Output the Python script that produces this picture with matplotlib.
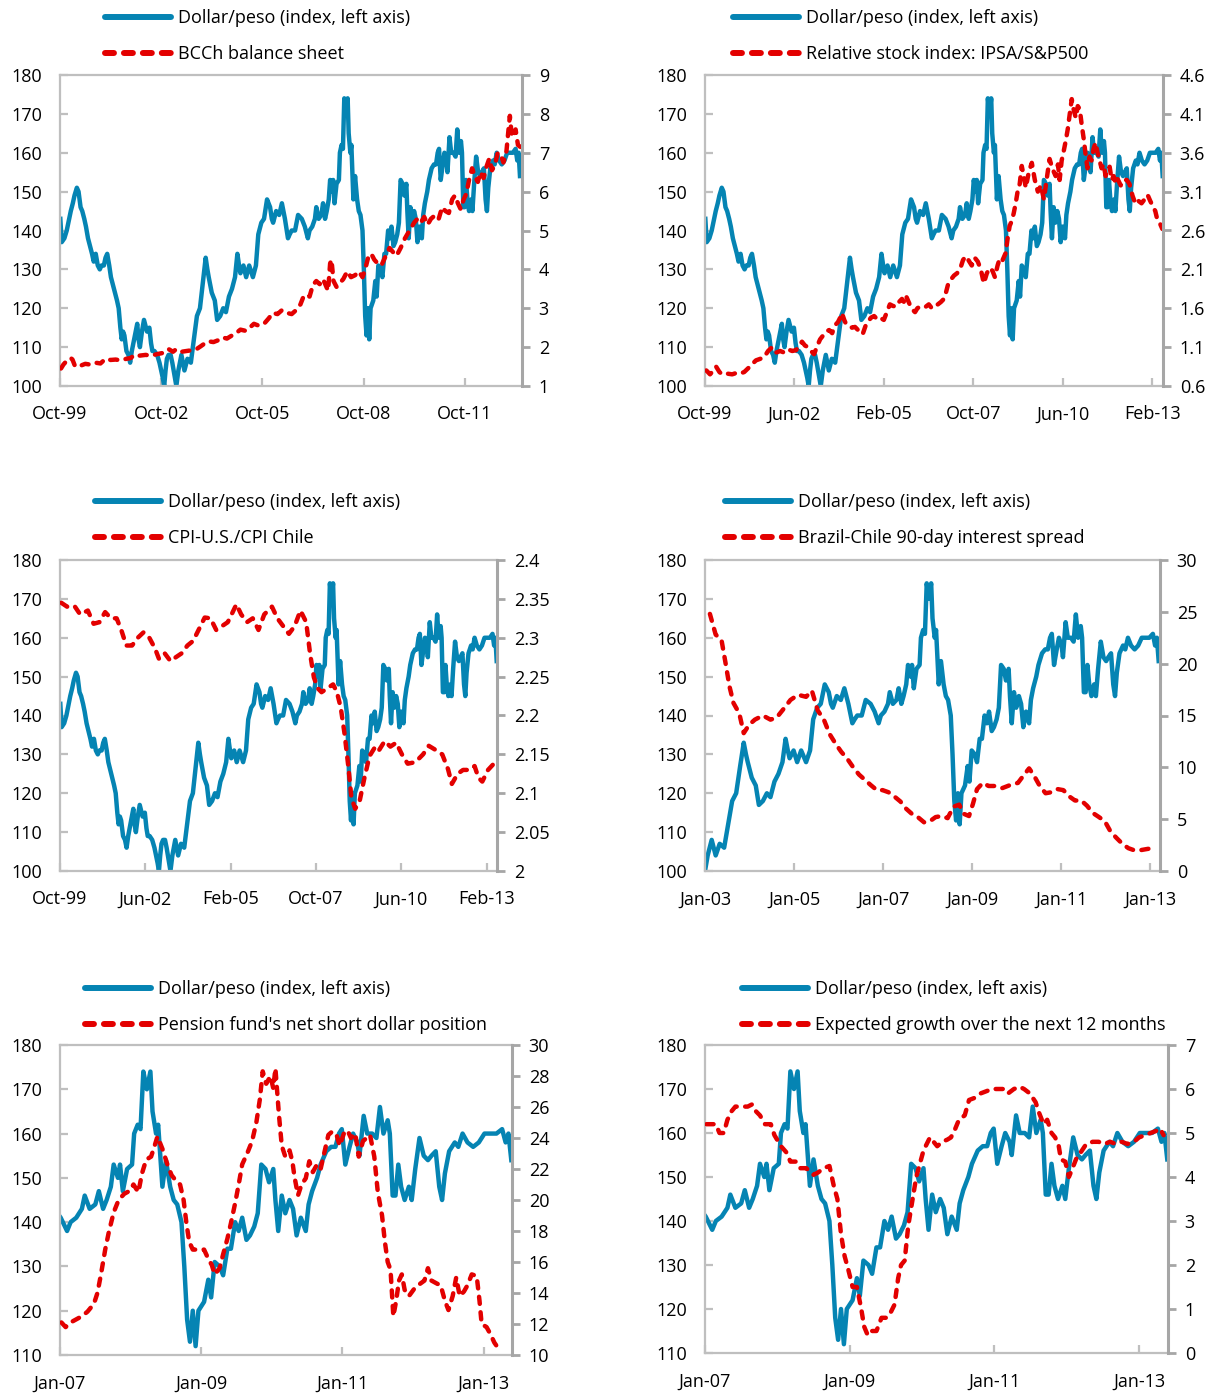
import matplotlib
matplotlib.use('Agg')
import matplotlib.pyplot as plt
from matplotlib.lines import Line2D

plt.rcParams['font.family'] = ['Open Sans', 'DejaVu Sans']

# dollar/peso index (decimal year, value)
fx_t = [1999.76, 1999.80, 1999.88, 1999.95, 2000.02, 2000.07, 2000.13, 2000.18, 2000.25, 2000.30,
        2000.36, 2000.41, 2000.47, 2000.52, 2000.58, 2000.64, 2000.70, 2000.75, 2000.81, 2000.87,
        2000.93, 2000.98, 2001.05, 2001.10, 2001.15, 2001.21, 2001.26, 2001.32, 2001.38, 2001.44,
        2001.49, 2001.54, 2001.58, 2001.62, 2001.66, 2001.72, 2001.78, 2001.83, 2001.88, 2001.95,
        2002.00, 2002.04, 2002.08, 2002.12, 2002.18, 2002.24, 2002.27, 2002.33, 2002.40, 2002.45,
        2002.49, 2002.55, 2002.63, 2002.70, 2002.75, 2002.80, 2002.84, 2002.88, 2002.92, 2002.97,
        2003.03, 2003.08, 2003.14, 2003.20, 2003.26, 2003.35, 2003.44, 2003.53, 2003.63, 2003.72,
        2003.81, 2003.90, 2003.99, 2004.07, 2004.12, 2004.16, 2004.25, 2004.34, 2004.41, 2004.50,
        2004.59, 2004.67, 2004.76, 2004.85, 2004.94, 2005.01, 2005.06, 2005.10, 2005.19, 2005.27,
        2005.36, 2005.47, 2005.56, 2005.63, 2005.72, 2005.80, 2005.89, 2005.98, 2006.03, 2006.07,
        2006.16, 2006.25, 2006.33, 2006.42, 2006.51, 2006.56, 2006.62, 2006.72, 2006.81, 2006.92,
        2007.01, 2007.10, 2007.15, 2007.23, 2007.31, 2007.35, 2007.42, 2007.50, 2007.55, 2007.61,
        2007.66, 2007.72, 2007.76, 2007.82, 2007.85, 2007.89, 2007.95, 2008.02, 2008.05, 2008.10,
        2008.14, 2008.18, 2008.23, 2008.28, 2008.31, 2008.36, 2008.39, 2008.45, 2008.50, 2008.56,
        2008.61, 2008.66, 2008.72, 2008.76, 2008.80, 2008.84, 2008.88, 2008.92, 2008.96, 2009.04,
        2009.10, 2009.14, 2009.19, 2009.26, 2009.31, 2009.37, 2009.42, 2009.48, 2009.53, 2009.58,
        2009.64, 2009.69, 2009.75, 2009.80, 2009.85, 2009.91, 2009.96, 2010.02, 2010.05, 2010.09,
        2010.14, 2010.19, 2010.25, 2010.30, 2010.35, 2010.41, 2010.48, 2010.52, 2010.57, 2010.64,
        2010.69, 2010.77, 2010.84, 2010.90, 2010.95, 2010.99, 2011.04, 2011.10, 2011.15, 2011.21,
        2011.24, 2011.30, 2011.35, 2011.42, 2011.48, 2011.53, 2011.58, 2011.64, 2011.67, 2011.71,
        2011.75, 2011.79, 2011.83, 2011.88, 2011.94, 2011.98, 2012.03, 2012.09, 2012.15, 2012.21,
        2012.26, 2012.32, 2012.37, 2012.41, 2012.45, 2012.51, 2012.59, 2012.64, 2012.70, 2012.77,
        2012.85, 2012.93, 2013.01, 2013.10, 2013.18, 2013.26, 2013.31, 2013.35, 2013.39]
fx_v = [143, 137, 138, 140, 143, 145, 147, 149, 151, 150,
        146, 145, 143, 141, 138, 136, 134, 132, 134, 131,
        130, 131, 131, 133, 134, 131, 128, 126, 124, 122,
        120, 115, 112, 114, 113, 109, 108, 106, 109, 112,
        114, 116, 112, 110, 114, 117, 116, 114, 115, 111,
        109, 109, 108, 106, 104, 102, 100, 104, 107, 108,
        108, 106, 103, 100, 104, 108, 104, 107, 106, 112,
        118, 120, 127, 133, 130, 128, 124, 122, 117, 118,
        120, 119, 123, 125, 128, 134, 131, 129, 131, 128,
        131, 128, 131, 139, 142, 143, 148, 146, 143, 142,
        145, 144, 147, 143, 138, 139, 140, 140, 144, 143,
        141, 138, 140, 141, 143, 146, 143, 144, 147, 143,
        145, 148, 153, 150, 153, 147, 152, 153, 160, 162,
        161, 174, 170, 174, 165, 160, 162, 148, 154, 148,
        145, 144, 140, 130, 118, 113, 120, 112, 120, 122,
        127, 123, 131, 130, 128, 134, 134, 140, 138, 141,
        136, 137, 139, 142, 153, 152, 149, 152, 145, 138,
        146, 142, 145, 143, 137, 141, 138, 144, 147, 150,
        153, 156, 157, 157, 160, 161, 153, 157, 160, 158,
        155, 164, 160, 160, 159, 166, 160, 163, 160, 146,
        146, 153, 148, 145, 148, 145, 152, 159, 155, 154,
        155, 156, 148, 145, 151, 156, 158, 157, 160, 158,
        157, 158, 160, 160, 160, 161, 158, 160, 154]

# BCCh balance sheet
bcch_t = [1999.78, 1999.85, 1999.95, 2000.07, 2000.12, 2000.20, 2000.35, 2000.50, 2000.65, 2000.80,
          2000.95, 2001.10, 2001.25, 2001.40, 2001.55, 2001.72, 2001.85, 2001.95, 2002.10, 2002.29,
          2002.45, 2002.63, 2002.80, 2002.97, 2003.10, 2003.20, 2003.35, 2003.50, 2003.66, 2003.80,
          2003.92, 2004.05, 2004.15, 2004.30, 2004.45, 2004.57, 2004.70, 2004.85, 2005.00, 2005.10,
          2005.25, 2005.40, 2005.50, 2005.65, 2005.82, 2005.95, 2006.05, 2006.20, 2006.33, 2006.48,
          2006.62, 2006.75, 2006.88, 2006.97, 2007.05, 2007.15, 2007.25, 2007.35, 2007.45, 2007.55,
          2007.65, 2007.70, 2007.76, 2007.80, 2007.86, 2007.95, 2008.05, 2008.15, 2008.27, 2008.38,
          2008.50, 2008.61, 2008.72, 2008.80, 2008.90, 2008.98, 2009.07, 2009.17, 2009.28, 2009.41,
          2009.52, 2009.62, 2009.73, 2009.85, 2009.98, 2010.08, 2010.15, 2010.25, 2010.35, 2010.45,
          2010.55, 2010.65, 2010.75, 2010.88, 2010.98, 2011.08, 2011.18, 2011.28, 2011.38, 2011.46,
          2011.55, 2011.63, 2011.72, 2011.80, 2011.88, 2011.97, 2012.05, 2012.14, 2012.22, 2012.31,
          2012.40, 2012.48, 2012.56, 2012.65, 2012.73, 2012.82, 2012.90, 2012.99, 2013.05, 2013.09,
          2013.14, 2013.20, 2013.26, 2013.33, 2013.40]
bcch_v = [1.45, 1.55, 1.65, 1.72, 1.68, 1.50, 1.52, 1.57, 1.55, 1.60,
          1.58, 1.70, 1.67, 1.68, 1.66, 1.70, 1.72, 1.80, 1.78, 1.80,
          1.78, 1.82, 1.85, 1.95, 1.88, 1.95, 1.88, 1.90, 1.92, 1.95,
          2.02, 2.10, 2.15, 2.13, 2.18, 2.25, 2.22, 2.30, 2.38, 2.45,
          2.42, 2.52, 2.60, 2.55, 2.62, 2.75, 2.88, 2.85, 2.95, 2.88,
          2.85, 2.95, 3.10, 3.30, 3.35, 3.30, 3.60, 3.70, 3.62, 3.75,
          3.55, 3.45, 4.15, 4.25, 3.70, 3.55, 3.65, 3.75, 3.95, 3.80,
          3.85, 3.95, 3.80, 4.00, 4.35, 4.40, 4.25, 4.15, 4.10, 4.35,
          4.55, 4.45, 4.35, 4.55, 4.80, 4.95, 5.05, 5.20, 5.30, 5.20,
          5.35, 5.15, 5.30, 5.40, 5.30, 5.60, 5.50, 5.45, 5.80, 5.90,
          5.70, 5.55, 5.80, 5.95, 6.30, 6.60, 6.40, 6.25, 6.50, 6.35,
          6.65, 6.85, 6.55, 6.70, 7.00, 6.95, 6.75, 7.05, 7.60, 7.95,
          7.50, 7.40, 7.60, 7.20, 7.15]

# Relative stock index IPSA/S&P500
ipsa_t = [1999.79, 1999.90, 2000.00, 2000.08, 2000.18, 2000.26, 2000.40, 2000.56, 2000.70, 2000.80,
          2000.92, 2001.04, 2001.15, 2001.27, 2001.40, 2001.51, 2001.63, 2001.75, 2001.87, 2001.99,
          2002.11, 2002.23, 2002.35, 2002.46, 2002.58, 2002.64, 2002.73, 2002.82, 2002.91, 2003.00,
          2003.10, 2003.18, 2003.27, 2003.36, 2003.45, 2003.54, 2003.62, 2003.71, 2003.78, 2003.83,
          2003.90, 2003.95, 2004.05, 2004.13, 2004.22, 2004.31, 2004.40, 2004.46, 2004.54, 2004.61,
          2004.70, 2004.79, 2004.88, 2004.96, 2005.08, 2005.17, 2005.26, 2005.35, 2005.44, 2005.53,
          2005.62, 2005.68, 2005.74, 2005.80, 2005.86, 2005.94, 2006.01, 2006.08, 2006.15, 2006.25,
          2006.33, 2006.42, 2006.51, 2006.60, 2006.69, 2006.78, 2006.87, 2006.93, 2006.99, 2007.08,
          2007.17, 2007.26, 2007.35, 2007.44, 2007.52, 2007.60, 2007.70, 2007.79, 2007.88, 2007.97,
          2008.06, 2008.15, 2008.24, 2008.32, 2008.39, 2008.47, 2008.54, 2008.62, 2008.71, 2008.77,
          2008.83, 2008.89, 2008.95, 2009.01, 2009.07, 2009.13, 2009.19, 2009.25, 2009.31, 2009.40,
          2009.49, 2009.58, 2009.67, 2009.76, 2009.85, 2009.93, 2010.02, 2010.10, 2010.20, 2010.27,
          2010.32, 2010.38, 2010.44, 2010.50, 2010.56, 2010.62, 2010.68, 2010.74, 2010.80, 2010.86,
          2010.92, 2010.98, 2011.04, 2011.10, 2011.15, 2011.21, 2011.27, 2011.33, 2011.39, 2011.45,
          2011.51, 2011.57, 2011.63, 2011.69, 2011.75, 2011.81, 2011.87, 2011.93, 2011.99, 2012.05,
          2012.14, 2012.23, 2012.32, 2012.40, 2012.49, 2012.58, 2012.67, 2012.76, 2012.85, 2012.94,
          2013.02, 2013.11, 2013.17, 2013.23, 2013.30, 2013.38]
ipsa_v = [0.80, 0.75, 0.80, 0.85, 0.78, 0.75, 0.76, 0.75, 0.77, 0.76,
          0.78, 0.83, 0.88, 0.93, 0.95, 0.97, 1.05, 1.10, 1.03, 1.05,
          1.03, 1.07, 1.05, 1.06, 1.13, 1.17, 1.12, 1.10, 1.05, 1.01,
          1.12, 1.20, 1.25, 1.30, 1.32, 1.28, 1.38, 1.42, 1.48, 1.54,
          1.45, 1.40, 1.38, 1.35, 1.36, 1.32, 1.33, 1.28, 1.38, 1.43,
          1.48, 1.50, 1.46, 1.48, 1.45, 1.55, 1.65, 1.63, 1.62, 1.68,
          1.72, 1.68, 1.76, 1.70, 1.64, 1.58, 1.55, 1.60, 1.62, 1.63,
          1.62, 1.65, 1.60, 1.63, 1.65, 1.68, 1.72, 1.80, 1.90, 1.97,
          2.02, 2.05, 2.10, 2.22, 2.27, 2.22, 2.15, 2.25, 2.20, 2.10,
          1.92, 2.05, 2.12, 2.08, 2.00, 2.15, 2.25, 2.22, 2.31, 2.50,
          2.66, 2.72, 2.82, 2.95, 3.11, 3.20, 3.43, 3.30, 3.15, 3.35,
          3.47, 3.25, 3.10, 3.18, 3.00, 3.25, 3.52, 3.40, 3.30, 3.45,
          3.25, 3.50, 3.62, 3.75, 3.90, 4.10, 4.29, 4.15, 4.05, 4.20,
          4.16, 3.95, 3.77, 3.55, 3.40, 3.55, 3.50, 3.65, 3.73, 3.60,
          3.50, 3.40, 3.45, 3.30, 3.38, 3.42, 3.25, 3.30, 3.20, 3.26,
          3.18, 3.25, 3.25, 3.20, 3.05, 2.94, 2.98, 2.95, 3.00, 3.06,
          2.98, 2.90, 2.85, 2.74, 2.70, 2.62]

# CPI-U.S./CPI Chile
cpi_t = [1999.79, 1999.97, 2000.20, 2000.38, 2000.62, 2000.80, 2000.98, 2001.16, 2001.34, 2001.52,
         2001.68, 2001.82, 2002.00, 2002.18, 2002.36, 2002.54, 2002.72, 2002.84, 2003.02, 2003.20,
         2003.37, 2003.55, 2003.73, 2003.91, 2004.09, 2004.27, 2004.45, 2004.63, 2004.81, 2004.99,
         2005.11, 2005.26, 2005.41, 2005.59, 2005.77, 2005.95, 2006.13, 2006.37, 2006.54, 2006.72,
         2006.90, 2007.08, 2007.26, 2007.44, 2007.56, 2007.68, 2007.80, 2007.92, 2008.10, 2008.28,
         2008.40, 2008.52, 2008.64, 2008.76, 2008.85, 2008.97, 2009.11, 2009.26, 2009.42, 2009.60,
         2009.71, 2009.89, 2010.07, 2010.25, 2010.43, 2010.61, 2010.85, 2011.09, 2011.27, 2011.51,
         2011.69, 2011.87, 2011.99, 2012.17, 2012.34, 2012.52, 2012.70, 2012.82, 2012.94, 2013.12,
         2013.30]
cpi_v = [2.345, 2.340, 2.341, 2.330, 2.335, 2.318, 2.320, 2.333, 2.325, 2.325,
         2.308, 2.290, 2.290, 2.300, 2.307, 2.300, 2.286, 2.273, 2.280, 2.270,
         2.275, 2.280, 2.290, 2.296, 2.311, 2.326, 2.325, 2.310, 2.315, 2.320,
         2.330, 2.343, 2.330, 2.320, 2.325, 2.310, 2.330, 2.340, 2.325, 2.315,
         2.305, 2.315, 2.335, 2.320, 2.280, 2.249, 2.235, 2.230, 2.235, 2.240,
         2.230, 2.210, 2.176, 2.133, 2.095, 2.080, 2.090, 2.120, 2.148, 2.160,
         2.155, 2.167, 2.160, 2.165, 2.150, 2.138, 2.140, 2.150, 2.161, 2.155,
         2.150, 2.131, 2.112, 2.125, 2.130, 2.130, 2.135, 2.120, 2.115, 2.130,
         2.138]

# Brazil-Chile 90-day interest spread
spread_t = [2003.31, 2003.44, 2003.57, 2003.66, 2003.75, 2003.84, 2003.97, 2004.07, 2004.19, 2004.32,
            2004.50, 2004.67, 2004.81, 2004.94, 2005.12, 2005.29, 2005.47, 2005.60, 2005.73, 2005.87,
            2006.00, 2006.13, 2006.26, 2006.40, 2006.53, 2006.66, 2006.79, 2006.92, 2007.06, 2007.19,
            2007.32, 2007.45, 2007.59, 2007.72, 2007.85, 2007.98, 2008.12, 2008.25, 2008.38, 2008.51,
            2008.65, 2008.78, 2008.91, 2009.02, 2009.13, 2009.22, 2009.31, 2009.44, 2009.57, 2009.71,
            2009.88, 2010.06, 2010.23, 2010.37, 2010.48, 2010.59, 2010.72, 2010.85, 2010.98, 2011.12,
            2011.25, 2011.38, 2011.51, 2011.65, 2011.78, 2011.91, 2012.05, 2012.18, 2012.31, 2012.44,
            2012.58, 2012.71, 2012.84, 2012.97, 2013.10, 2013.24, 2013.32]
spread_v = [24.8, 22.8, 22.3, 20.1, 17.8, 16.2, 15.2, 13.3, 14.1, 14.6,
            15.0, 14.6, 14.8, 15.5, 16.5, 17.0, 16.8, 17.4, 15.5, 14.6,
            13.2, 12.3, 11.5, 10.8, 10.0, 9.3, 8.8, 8.3, 7.8, 7.8,
            7.6, 7.2, 6.7, 6.0, 5.5, 5.2, 4.7, 4.8, 5.2, 5.3,
            5.1, 6.2, 6.4, 5.5, 5.3, 6.5, 7.9, 8.5, 8.2, 8.2,
            8.0, 8.3, 8.5, 9.3, 9.9, 9.2, 8.2, 7.5, 7.6, 7.9,
            7.8, 7.2, 6.8, 6.8, 6.3, 5.6, 5.2, 4.8, 3.8, 3.2,
            2.6, 2.2, 2.0, 2.0, 2.1, 2.2, 2.2]

# Pension funds' net short dollar position
pension_t = [2007.02, 2007.08, 2007.15, 2007.23, 2007.31, 2007.39, 2007.48, 2007.53, 2007.58, 2007.64,
             2007.69, 2007.76, 2007.83, 2007.91, 2007.99, 2008.04, 2008.11, 2008.16, 2008.22, 2008.29,
             2008.34, 2008.38, 2008.45, 2008.52, 2008.58, 2008.65, 2008.70, 2008.75, 2008.79, 2008.83,
             2008.88, 2008.96, 2009.04, 2009.10, 2009.15, 2009.19, 2009.26, 2009.31, 2009.37, 2009.42,
             2009.48, 2009.53, 2009.58, 2009.65, 2009.72, 2009.78, 2009.83, 2009.87, 2009.92, 2009.98,
             2010.02, 2010.05, 2010.10, 2010.14, 2010.19, 2010.25, 2010.29, 2010.32, 2010.37, 2010.42,
             2010.48, 2010.53, 2010.58, 2010.64, 2010.69, 2010.75, 2010.80, 2010.85, 2010.91, 2010.96,
             2011.02, 2011.07, 2011.12, 2011.18, 2011.23, 2011.29, 2011.34, 2011.39, 2011.45, 2011.50,
             2011.56, 2011.60, 2011.64, 2011.68, 2011.72, 2011.76, 2011.80, 2011.84, 2011.88, 2011.94,
             2012.02, 2012.10, 2012.16, 2012.21, 2012.26, 2012.34, 2012.39, 2012.45, 2012.50, 2012.56,
             2012.61, 2012.66, 2012.72, 2012.77, 2012.83, 2012.90, 2012.94, 2012.97, 2013.04, 2013.10,
             2013.15, 2013.21, 2013.24]
pension_v = [12.1, 11.8, 12.1, 12.3, 12.5, 12.8, 13.3, 14.0, 15.2, 16.8,
             17.9, 19.2, 20.0, 20.4, 20.6, 21.0, 20.5, 21.7, 22.6, 22.8,
             23.5, 24.1, 23.3, 22.3, 21.6, 21.2, 21.0, 20.0, 18.5, 17.3,
             16.8, 16.8, 16.8, 16.2, 15.8, 15.2, 15.6, 16.5, 17.5, 18.5,
             19.8, 21.0, 22.3, 23.0, 23.8, 25.0, 26.5, 28.3, 27.5, 28.0,
             27.2, 28.5, 25.5, 23.5, 22.8, 23.2, 22.5, 21.5, 20.3, 21.0,
             21.4, 22.5, 21.8, 22.3, 22.0, 23.2, 24.2, 24.4, 24.3, 23.5,
             24.3, 24.5, 24.0, 24.3, 22.8, 23.8, 24.0, 24.2, 22.8, 20.5,
             19.0, 17.3, 16.0, 15.5, 12.5, 13.5, 14.8, 15.2, 14.2, 13.8,
             14.3, 14.6, 14.8, 15.6, 14.8, 14.6, 14.5, 13.5, 12.9, 13.8,
             15.0, 13.8, 14.1, 14.5, 15.2, 15.1, 13.5, 12.0, 11.8, 11.3,
             10.8, 10.4, 10.5]

# Expected growth over the next 12 months
growth_t = [2007.02, 2007.10, 2007.15, 2007.20, 2007.26, 2007.31, 2007.37, 2007.42, 2007.50, 2007.59,
            2007.65, 2007.70, 2007.76, 2007.83, 2007.91, 2007.96, 2008.05, 2008.13, 2008.18, 2008.26,
            2008.32, 2008.40, 2008.50, 2008.56, 2008.64, 2008.72, 2008.78, 2008.83, 2008.88, 2008.93,
            2008.98, 2009.04, 2009.10, 2009.16, 2009.20, 2009.25, 2009.31, 2009.37, 2009.44, 2009.51,
            2009.56, 2009.62, 2009.67, 2009.71, 2009.76, 2009.81, 2009.86, 2009.92, 2009.97, 2010.02,
            2010.11, 2010.16, 2010.21, 2010.28, 2010.35, 2010.40, 2010.46, 2010.51, 2010.59, 2010.65,
            2010.73, 2010.81, 2010.89, 2010.97, 2011.05, 2011.14, 2011.19, 2011.27, 2011.35, 2011.41,
            2011.49, 2011.57, 2011.62, 2011.68, 2011.73, 2011.79, 2011.84, 2011.89, 2011.92, 2011.98,
            2012.03, 2012.08, 2012.14, 2012.19, 2012.27, 2012.36, 2012.44, 2012.52, 2012.60, 2012.68,
            2012.76, 2012.84, 2012.93, 2013.00, 2013.08, 2013.16, 2013.24, 2013.29, 2013.34]
growth_v = [5.20, 5.20, 5.20, 5.00, 5.00, 5.30, 5.50, 5.60, 5.60, 5.60,
            5.65, 5.50, 5.40, 5.20, 5.20, 4.95, 4.70, 4.55, 4.35, 4.35,
            4.20, 4.20, 4.05, 4.10, 4.20, 4.25, 3.80, 3.50, 2.70, 2.20,
            1.90, 1.50, 1.50, 1.00, 0.60, 0.40, 0.50, 0.50, 0.80, 0.80,
            0.90, 1.10, 1.70, 2.00, 2.10, 2.90, 3.40, 4.00, 4.30, 4.60,
            4.90, 4.80, 4.70, 4.80, 4.85, 4.90, 5.10, 5.30, 5.40, 5.75,
            5.80, 5.90, 5.95, 6.00, 6.00, 6.00, 5.90, 6.00, 6.05, 6.00,
            5.90, 5.70, 5.45, 5.20, 5.30, 5.00, 4.90, 4.70, 4.40, 4.35,
            4.00, 4.20, 4.45, 4.55, 4.75, 4.80, 4.80, 4.75, 4.80, 4.75,
            4.80, 4.75, 4.80, 4.90, 4.95, 5.00, 5.05, 5.10, 4.95]

BLUE = '#0584b3'
RED = '#e30000'
GRID = '#bfbfbf'
RAXIS = '#a6a6a6'
W, H = 1211, 1397

fig = plt.figure(figsize=(W / 100, H / 100), dpi=100)


def panel(box, red_t, red_v, red_label, xlim, xticks, xlabels,
          ylim_l, ystep_l, ylim_r, ystep_r, leg_xy):
    left, top, right, bottom = box
    ax = fig.add_axes([left / W, 1 - bottom / H, (right - left) / W, (bottom - top) / H])
    ax.plot(fx_t, fx_v, color=BLUE, lw=3.2, solid_joinstyle='round')
    ax.set_xlim(*xlim)
    ax.set_ylim(*ylim_l)
    ax.set_xticks(xticks)
    ax.set_xticklabels(xlabels)
    yt = [ylim_l[0] + i * ystep_l for i in range(int(round((ylim_l[1] - ylim_l[0]) / ystep_l)) + 1)]
    ax.set_yticks(yt)
    ax.set_yticklabels(['%g' % v for v in yt])
    for s in ['left', 'top', 'bottom']:
        ax.spines[s].set_color(GRID)
        ax.spines[s].set_linewidth(1.6)
    ax.spines['right'].set_visible(False)
    ax.tick_params(axis='both', direction='in', length=6, width=1.6, color=GRID, labelsize=13)
    ax.tick_params(axis='y', pad=13)
    ax.tick_params(axis='x', pad=14)

    ax2 = ax.twinx()
    ax2.plot(red_t, red_v, color=RED, lw=3.2, dashes=(1.6, 1.9), dash_capstyle='round')
    ax2.set_ylim(*ylim_r)
    rt = [ylim_r[0] + i * ystep_r for i in range(int(round((ylim_r[1] - ylim_r[0]) / ystep_r)) + 1)]
    ax2.set_yticks(rt)
    ax2.set_yticklabels(['%g' % round(v, 2) for v in rt])
    for s in ['left', 'top', 'bottom']:
        ax2.spines[s].set_visible(False)
    ax2.spines['right'].set_color(RAXIS)
    ax2.spines['right'].set_linewidth(2.2)
    ax2.tick_params(axis='y', direction='out', length=6, width=2, color=RAXIS, labelsize=13, pad=6)

    handles = [Line2D([], [], color=BLUE, lw=4.3, solid_capstyle='round'),
               Line2D([], [], color=RED, lw=4.3, dashes=(1.5, 1.67), dash_capstyle='round')]
    fig.legend(handles, ['Dollar/peso (index, left axis)', red_label],
               loc='upper left', bbox_to_anchor=(leg_xy[0] / W, 1 - leg_xy[1] / H),
               frameon=False, fontsize=13, handlelength=3.65, handletextpad=0.4,
               labelspacing=1.0, borderpad=0, borderaxespad=0)
    return ax


oct99 = ['Oct-99', 'Jun-02', 'Feb-05', 'Oct-07', 'Jun-10', 'Feb-13']
oct99_pos = [1999.75 + k * 32 / 12 for k in range(6)]

panel((60, 75, 522, 386), bcch_t, bcch_v, 'BCCh balance sheet',
      (1999.75, 2013.45), [1999.75 + 3 * k for k in range(5)],
      ['Oct-99', 'Oct-02', 'Oct-05', 'Oct-08', 'Oct-11'],
      (100, 180), 10, (1, 9), 1, (105, 9))

panel((705, 75, 1163, 386), ipsa_t, ipsa_v, 'Relative stock index: IPSA/S&P500',
      (1999.75, 2013.4), oct99_pos, oct99,
      (100, 180), 10, (0.6, 4.6), 0.5, (733, 9))

panel((60, 560, 497, 871), cpi_t, cpi_v, 'CPI-U.S./CPI Chile',
      (1999.75, 2013.4), oct99_pos, oct99,
      (100, 180), 10, (2.0, 2.4), 0.05, (95, 493))

panel((705, 560, 1160, 871), spread_t, spread_v, 'Brazil-Chile 90-day interest spread',
      (2003.2, 2013.42), [2003.2 + 2 * k for k in range(6)],
      ['Jan-03', 'Jan-05', 'Jan-07', 'Jan-09', 'Jan-11', 'Jan-13'],
      (100, 180), 10, (0, 30), 5, (725, 493))

panel((60, 1045, 512, 1355), pension_t, pension_v, "Pension fund's net short dollar position",
      (2007.0, 2013.4), [2007, 2009, 2011, 2013], ['Jan-07', 'Jan-09', 'Jan-11', 'Jan-13'],
      (110, 180), 10, (10, 30), 2, (85, 980))

panel((705, 1045, 1168, 1353), growth_t, growth_v, 'Expected growth over the next 12 months',
      (2007.0, 2013.4), [2007, 2009, 2011, 2013], ['Jan-07', 'Jan-09', 'Jan-11', 'Jan-13'],
      (110, 180), 10, (0, 7), 1, (742, 980))

fig.savefig('out.png', dpi=100)
